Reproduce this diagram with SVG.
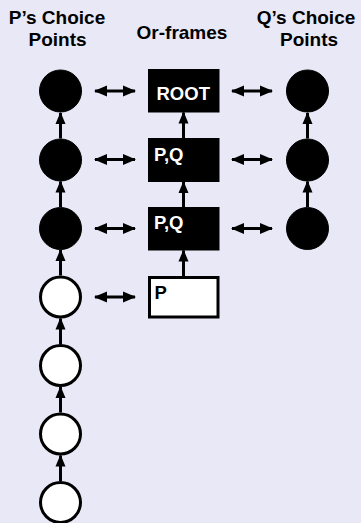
<svg xmlns="http://www.w3.org/2000/svg" width="361" height="523" viewBox="0 0 361 523">
  <defs>
    <marker id="head" markerUnits="userSpaceOnUse" markerWidth="13" markerHeight="12" viewBox="0 0 13 12" refX="12" refY="6" orient="auto-start-reverse">
      <path d="M0,0.5 L13,6 L0,11.5 Z" fill="#000"/>
    </marker>
    <marker id="uphead" markerUnits="userSpaceOnUse" markerWidth="12" markerHeight="12" viewBox="0 0 12 12" refX="11" refY="6" orient="auto">
      <path d="M0,1 L12,6 L0,11 Z" fill="#000"/>
    </marker>
  </defs>
  <style>
    .bg { fill: #E8E8F6; }
    .hdr { font-family: "Liberation Sans", Arial, sans-serif; font-weight: bold; font-size: 19px; fill: #000; text-anchor: middle; }
    .lbl { font-family: "Liberation Sans", Arial, sans-serif; font-weight: bold; font-size: 18.5px; }
    .dark { fill: #000; stroke: #000; stroke-width: 1; }
    .light { fill: #fff; stroke: #000; stroke-width: 3; }
    .wt { fill: #fff; }
    .bk { fill: #000; }
    .link { stroke: #000; stroke-width: 3; fill: none; }
    .up { marker-end: url(#uphead); }
    .both { marker-start: url(#head); marker-end: url(#head); }
  </style>

  <rect class="bg" x="0" y="0" width="361" height="523"/>

  <!-- column headings -->
  <g id="headings">
    <text class="hdr" x="57" y="23.5">P’s Choice</text>
    <text class="hdr" x="57.5" y="46">Points</text>
    <text class="hdr" x="182" y="38.5">Or-frames</text>
    <text class="hdr" x="306" y="23.5">Q’s Choice</text>
    <text class="hdr" x="309" y="46">Points</text>
  </g>

  <!-- connectors -->
  <g id="connectors">
    <!-- P chain -->
    <line class="link up" x1="60.5" y1="481" x2="60.5" y2="455.5"/>
    <line class="link up" x1="60.5" y1="412.5" x2="60.5" y2="387"/>
    <line class="link up" x1="60.5" y1="344" x2="60.5" y2="318.5"/>
    <line class="link up" x1="60.5" y1="275.5" x2="60.5" y2="250"/>
    <line class="link up" x1="60.5" y1="207" x2="60.5" y2="181.5"/>
    <line class="link up" x1="60.5" y1="138.5" x2="60.5" y2="113"/>
    <!-- or-frame chain -->
    <line class="link up" x1="183.5" y1="276" x2="183.5" y2="250.5"/>
    <line class="link up" x1="183.5" y1="207" x2="183.5" y2="182"/>
    <line class="link up" x1="183.5" y1="138" x2="183.5" y2="112.5"/>
    <!-- Q chain -->
    <line class="link up" x1="307.5" y1="207" x2="307.5" y2="181.5"/>
    <line class="link up" x1="307.5" y1="138.5" x2="307.5" y2="113"/>
    <!-- correspondences -->
    <line class="link both" x1="95" y1="91" x2="135" y2="91"/>
    <line class="link both" x1="232" y1="91" x2="272" y2="91"/>
    <line class="link both" x1="95" y1="159.5" x2="135" y2="159.5"/>
    <line class="link both" x1="232" y1="159.5" x2="272" y2="159.5"/>
    <line class="link both" x1="95" y1="228.5" x2="135" y2="228.5"/>
    <line class="link both" x1="232" y1="228.5" x2="272" y2="228.5"/>
    <line class="link both" x1="95" y1="297" x2="135" y2="297"/>
  </g>

  <!-- P's choice points -->
  <g id="p1"><circle class="dark" cx="60.5" cy="91" r="21"/></g>
  <g id="p2"><circle class="dark" cx="60.5" cy="160" r="21"/></g>
  <g id="p3"><circle class="dark" cx="60.5" cy="228.5" r="21"/></g>
  <g id="p4"><circle class="light" cx="60.5" cy="297" r="20"/></g>
  <g id="p5"><circle class="light" cx="60.5" cy="365.5" r="20"/></g>
  <g id="p6"><circle class="light" cx="60.5" cy="434" r="20"/></g>
  <g id="p7"><circle class="light" cx="60.5" cy="502.5" r="20"/></g>

  <!-- or-frames -->
  <g id="f-root">
    <rect class="dark" x="148.5" y="69.5" width="70.5" height="42.5"/>
    <text class="lbl wt" x="156.5" y="100">ROOT</text>
  </g>
  <g id="f-pq1">
    <rect class="dark" x="148.5" y="138.5" width="70.5" height="43"/>
    <text class="lbl wt" x="154" y="160.5">P,Q</text>
  </g>
  <g id="f-pq2">
    <rect class="dark" x="148.5" y="207.5" width="70.5" height="42.5"/>
    <text class="lbl wt" x="154" y="229">P,Q</text>
  </g>
  <g id="f-p">
    <rect class="light" x="149.5" y="277.5" width="68.5" height="39.5"/>
    <text class="lbl bk" x="154.5" y="299">P</text>
  </g>

  <!-- Q's choice points -->
  <g id="q1"><circle class="dark" cx="307.5" cy="91" r="21"/></g>
  <g id="q2"><circle class="dark" cx="307.5" cy="160" r="21"/></g>
  <g id="q3"><circle class="dark" cx="307.5" cy="228.5" r="21"/></g>
</svg>
